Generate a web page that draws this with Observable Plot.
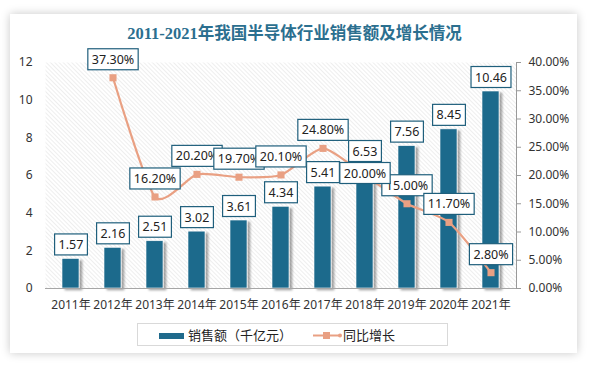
<!DOCTYPE html>
<html>
<head>
<meta charset="utf-8">
<script src="https://cdn.jsdelivr.net/npm/d3@7"></script>
<script src="https://cdn.jsdelivr.net/npm/@observablehq/plot@0.6"></script>
<style>
  html, body { margin: 0; padding: 0; background: #ffffff; }
  #wrap { position: relative; width: 589px; height: 366px; overflow: hidden; font-family: "Noto Sans", "Noto Sans CJK SC", sans-serif; }
  #card { position: absolute; left: 10px; top: 14px; width: 567px; height: 339px; background: #fff; box-shadow: 0 0 9px rgba(0,0,0,0.22); }
  #title { position: absolute; left: 0; width: 589px; top: 22px; text-align: center; font-family: "Liberation Serif", "Noto Sans CJK SC", serif; font-weight: bold; font-size: 16.5px; color: #2b6f8f; line-height: 24px; }
  #chart { position: absolute; left: 0; top: 0; }
  #legend { position: absolute; left: 137px; top: 323px; width: 311px; height: 23px; border: 1px solid #d9d9d9; box-sizing: border-box; font-family: "Noto Sans CJK SC", sans-serif; font-size: 13px; color: #222; }
  .lg { position: absolute; top: 2px; line-height: 18px; }
</style>
</head>
<body>
<div id="wrap">
  <div id="card"></div>
  <div id="title">2011-2021年我国半导体行业销售额及增长情况</div>
  <div id="chart"></div>
  <div id="legend">
    <svg width="311" height="23" style="position:absolute;left:0;top:0">
      <rect x="21" y="9" width="25" height="6" fill="#1f6a8c"></rect>
      <line x1="175" y1="11.5" x2="203" y2="11.5" stroke="#e9a083" stroke-width="2"></line>
      <rect x="185" y="8" width="7" height="7" fill="#e9a083"></rect>
      <circle cx="202" cy="11.5" r="2" fill="#e9a083"></circle>
    </svg>
    <span class="lg" style="left:50px">销售额（千亿元）</span>
    <span class="lg" style="left:205px">同比增长</span>
  </div>
</div>
<script>
const years = ["2011年","2012年","2013年","2014年","2015年","2016年","2017年","2018年","2019年","2020年","2021年"];
const sales = [1.57, 2.16, 2.51, 3.02, 3.61, 4.34, 5.41, 6.53, 7.56, 8.45, 10.46];
const growth = [null, 37.3, 16.2, 20.2, 19.7, 20.1, 24.8, 20.0, 15.0, 11.7, 2.8];
const leftTicks = [0, 2, 4, 6, 8, 10, 12];
const rightTicks = [0, 5, 10, 15, 20, 25, 30, 35, 40];

const leftMax = 12, rightMax = 40;
const k = leftMax / rightMax;

const barData = years.map((y, i) => ({year: y, v: sales[i]}));
const lineData = years.map((y, i) => ({year: y, g: growth[i]})).filter(d => d.g != null);

const barColor = "#1f6a8c";
const lineColor = "#e9a083";

const chart = Plot.plot({
  width: 589,
  height: 366,
  marginLeft: 45,
  marginRight: 73,
  marginTop: 62,
  marginBottom: 78,
  style: {fontFamily: "'Noto Sans', 'Noto Sans CJK SC', sans-serif", fontSize: "12px", color: "#333", background: "transparent"},
  x: {type: "band", domain: years, paddingInner: 0.6, paddingOuter: 0.3, axis: null, label: null},
  y: {domain: [0, leftMax], axis: null, label: null},
  marks: [
    Plot.frame({fill: "url(#hatch)", stroke: "none"}),
    Plot.barY(barData, {x: "year", y: "v", fill: barColor, stroke: "#ffffff", strokeWidth: 0.6}),
    Plot.ruleY([0], {stroke: "#a6a6a6", strokeWidth: 1}),
    Plot.axisX({anchor: "bottom", label: null, tickSize: 0, tickPadding: 12, fontSize: 12, fill: "#333"}),
    Plot.axisY(leftTicks, {anchor: "left", label: null, tickSize: 0, tickPadding: 13, fontSize: 12, fill: "#333"}),
    Plot.axisY(rightTicks.map(t => t * k), {anchor: "right", label: null, tickSize: 4, tickPadding: 8, stroke: "#999", fontSize: 12, fill: "#333", tickFormat: d => (d / k).toFixed(2) + "%"}),
    Plot.frame({anchor: "right", stroke: "#999"}),
    Plot.line(lineData, {x: "year", y: d => d.g * k, stroke: lineColor, strokeWidth: 2.2, curve: "cardinal", tension: 0.35}),
    Plot.dot(lineData, {x: "year", y: d => d.g * k, symbol: "square", r: 4, fill: lineColor, stroke: "none"}),
    Plot.text(barData, {x: "year", y: "v", text: d => d.v.toFixed(2), dy: -14, fontSize: 12.5, fill: "#222"}),
    Plot.text(lineData.filter(d => d.year !== "2018年"), {x: "year", y: d => d.g * k, text: d => d.g.toFixed(2) + "%", dy: -18, fontSize: 12.5, fill: "#222"}),
    Plot.text(lineData.filter(d => d.year === "2018年"), {x: "year", y: d => d.g * k, text: d => d.g.toFixed(2) + "%", dy: -2, fontSize: 12.5, fill: "#222"})
  ]
});

document.getElementById("chart").appendChild(chart);

// defs: hatch pattern and bar shadow
const ns = "http://www.w3.org/2000/svg";
const defs = document.createElementNS(ns, "defs");
defs.innerHTML = `
  <pattern id="hatch" patternUnits="userSpaceOnUse" width="3" height="3" patternTransform="rotate(-45)">
    <rect width="3" height="3" fill="#ffffff"></rect>
    <line x1="0" y1="0" x2="0" y2="3" stroke="#d9d9d9" stroke-width="0.9"></line>
  </pattern>
  <filter id="shadow" x="-30%" y="-10%" width="170%" height="130%">
    <feDropShadow dx="3" dy="2" stdDeviation="1.3" flood-color="#000" flood-opacity="0.35"></feDropShadow>
  </filter>`;
chart.insertBefore(defs, chart.firstChild);

chart.querySelectorAll('g[aria-label="bar"]').forEach(g => g.setAttribute("filter", "url(#shadow)"));

// white boxes with teal border around data labels
chart.querySelectorAll('g[aria-label="text"]').forEach(g => {
  g.querySelectorAll("text").forEach(t => {
    const b = t.getBBox();
    const r = document.createElementNS(ns, "rect");
    r.setAttribute("x", b.x - 4);
    r.setAttribute("y", b.y - 2);
    r.setAttribute("width", b.width + 8);
    r.setAttribute("height", b.height + 4);
    r.setAttribute("fill", "#fff");
    r.setAttribute("stroke", "#1f5f7c");
    r.setAttribute("stroke-width", "1.2");
    const tr = t.getAttribute("transform");
    if (tr) r.setAttribute("transform", tr);
    g.insertBefore(r, t);
  });
});
</script>
</body>
</html>
